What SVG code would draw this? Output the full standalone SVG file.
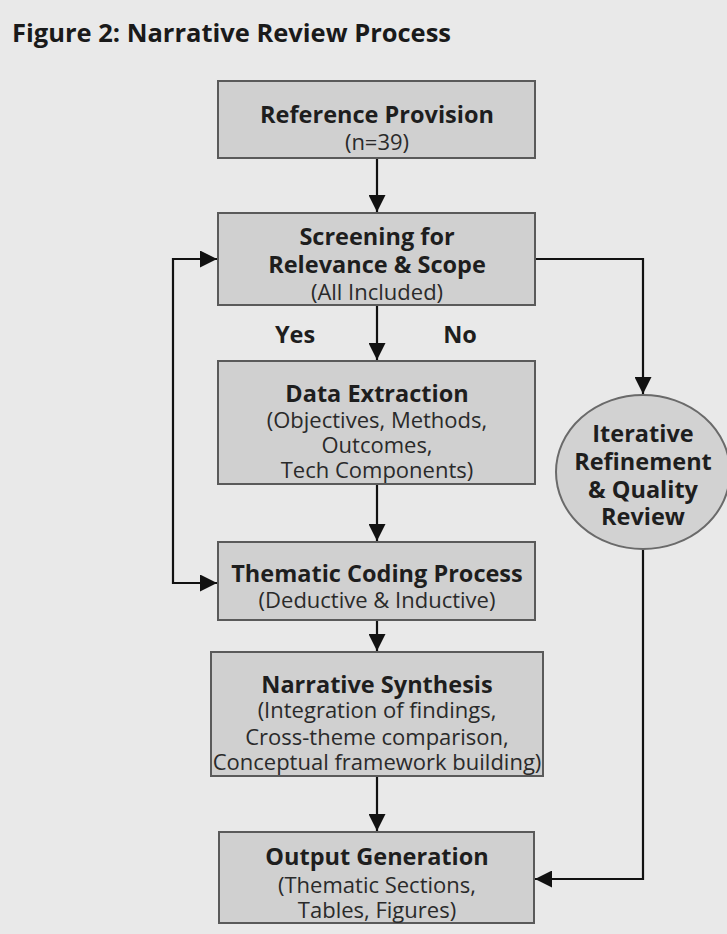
<svg xmlns="http://www.w3.org/2000/svg" width="727" height="934" viewBox="0 0 727 934">
<defs>
<style>
.box{fill:#d0d0d0;stroke:#5a5a5a;stroke-width:2}
.circ{fill:#d2d2d2;stroke:#6a6a6a;stroke-width:2}
.b{font-family:"Open Sans","Noto Sans","DejaVu Sans",sans-serif;font-weight:bold;font-size:23.5px;fill:#1e1e1e;text-anchor:middle}
.r{font-family:"Open Sans","Noto Sans","DejaVu Sans",sans-serif;font-size:22px;fill:#2a2a2a;text-anchor:middle}
.ln{fill:none;stroke:#111;stroke-width:2.2}
</style>
<marker id="ah" viewBox="0 0 10 10" refX="10" refY="5" markerWidth="17" markerHeight="17" markerUnits="userSpaceOnUse" orient="auto">
<path d="M0,0 L10,5 L0,10 z" fill="#111"/>
</marker>
</defs>
<rect width="727" height="934" fill="#e9e9e9"/>
<text x="12" y="42" font-family="'Open Sans','Noto Sans',sans-serif" font-weight="bold" font-size="25.5" fill="#1a1a1a">Figure 2: Narrative Review Process</text>

<g id="connectors">
<line class="ln" x1="377" y1="158" x2="377" y2="212" marker-end="url(#ah)"/>
<line class="ln" x1="377" y1="305" x2="377" y2="360" marker-end="url(#ah)"/>
<line class="ln" x1="377" y1="484" x2="377" y2="541" marker-end="url(#ah)"/>
<line class="ln" x1="377" y1="620" x2="377" y2="651" marker-end="url(#ah)"/>
<line class="ln" x1="377" y1="776" x2="377" y2="831" marker-end="url(#ah)"/>
<path class="ln" d="M535,259 H643 V394" marker-end="url(#ah)"/>
<path class="ln" d="M643,548 V879 H535" marker-end="url(#ah)"/>
<path class="ln" d="M217,259 H173 V583 H217" marker-end="url(#ah)"/>
<path class="ln" d="M173,259 H217" marker-end="url(#ah)"/>
<text class="b" x="295" y="343" font-size="22">Yes</text>
<text class="b" x="460" y="343" font-size="22">No</text>
</g>

<g id="reference">
<rect class="box" x="218" y="81" width="317" height="77"/>
<text class="b" x="377" y="123">Reference Provision</text>
<text class="r" x="377" y="150">(n=39)</text>
</g>

<g id="screening">
<rect class="box" x="218" y="213" width="317" height="92"/>
<text class="b" x="377" y="245">Screening for</text>
<text class="b" x="377" y="273">Relevance &amp; Scope</text>
<text class="r" x="377" y="300">(All Included)</text>
</g>

<g id="extraction">
<rect class="box" x="218" y="361" width="317" height="123"/>
<text class="b" x="377" y="402">Data Extraction</text>
<text class="r" x="377" y="428">(Objectives, Methods,</text>
<text class="r" x="377" y="453">Outcomes,</text>
<text class="r" x="377" y="478">Tech Components)</text>
</g>

<g id="coding">
<rect class="box" x="218" y="542" width="317" height="78"/>
<text class="b" x="377" y="582">Thematic Coding Process</text>
<text class="r" x="377" y="608">(Deductive &amp; Inductive)</text>
</g>

<g id="synthesis">
<rect class="box" x="211" y="652" width="332" height="124"/>
<text class="b" x="377" y="693">Narrative Synthesis</text>
<text class="r" x="377" y="718">(Integration of findings,</text>
<text class="r" x="377" y="745">Cross-theme comparison,</text>
<text class="r" x="377" y="770">Conceptual framework building)</text>
</g>

<g id="output">
<rect class="box" x="219" y="832" width="315" height="91"/>
<text class="b" x="377" y="865">Output Generation</text>
<text class="r" x="377" y="893">(Thematic Sections,</text>
<text class="r" x="377" y="918">Tables, Figures)</text>
</g>

<g id="iterative">
<ellipse class="circ" cx="643" cy="472" rx="87" ry="77"/>
<text class="b" x="643" y="442">Iterative</text>
<text class="b" x="643" y="470">Refinement</text>
<text class="b" x="643" y="498">&amp; Quality</text>
<text class="b" x="643" y="525">Review</text>
</g>
</svg>
